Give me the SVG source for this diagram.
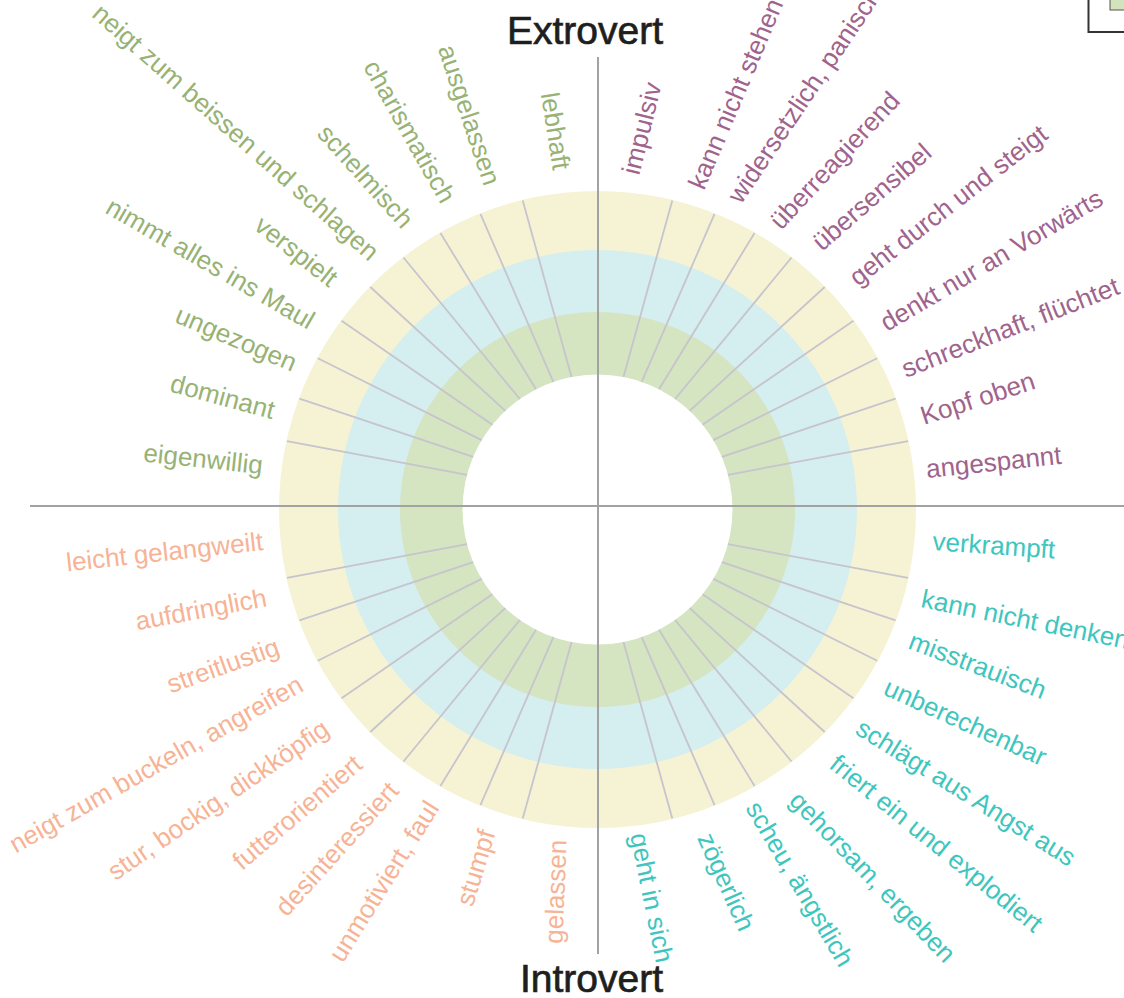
<svg xmlns="http://www.w3.org/2000/svg" xmlns:xlink="http://www.w3.org/1999/xlink" width="1124" height="998" viewBox="0 0 1124 998">
<style>
text{font-family:"Liberation Sans",Arial,sans-serif;font-size:26px}
.p{fill:#9f638c}
.g{fill:#97b274}
.t{fill:#3ec6be}
.o{fill:#f7b395}
.e{text-anchor:end}
.axis{stroke:#a2a2a2;stroke-width:2;fill:none}
.sp{stroke:#c6c4cc;stroke-width:1.8;fill:none}
.title{font-size:39px;fill:#1e1e1e;stroke:#1e1e1e;stroke-width:0.7}
</style>
<rect width="1124" height="998" fill="#ffffff"/>
<g id="rings">
<circle cx="597.5" cy="509.5" r="318.5" fill="#f6f3d5"/>
<circle cx="597.5" cy="509.5" r="259.5" fill="#d5eeef"/>
<circle cx="597.5" cy="509.5" r="197.5" fill="#d5e4c1"/>
<circle cx="597.5" cy="509.5" r="135" fill="#ffffff"/>
</g>
<g id="connectors">
<g transform="translate(597.5 509.5)">
<g id="quad" class="sp">
<line x1="130.46" y1="34.71" x2="310.58" y2="68.29"/>
<line x1="124.36" y1="52.53" x2="298.06" y2="110.85"/>
<line x1="115.84" y1="69.33" x2="279.73" y2="151.25"/>
<line x1="105.08" y1="84.76" x2="255.96" y2="188.71"/>
<line x1="92.21" y1="98.60" x2="227.20" y2="222.49"/>
<line x1="77.63" y1="110.45" x2="194.03" y2="251.95"/>
<line x1="61.50" y1="120.18" x2="157.07" y2="276.50"/>
<line x1="44.17" y1="127.57" x2="117.06" y2="295.67"/>
<line x1="25.99" y1="132.47" x2="74.77" y2="309.08"/>
</g>
<use href="#quad" xlink:href="#quad" transform="scale(-1 1)"/>
<use href="#quad" xlink:href="#quad" transform="scale(1 -1)"/>
<use href="#quad" xlink:href="#quad" transform="scale(-1 -1)"/>
</g>
<line class="axis" x1="30" y1="506" x2="1124" y2="506"/>
<line class="axis" x1="598" y1="57" x2="598" y2="954"/>
</g>
<g id="titles">
<text class="title" x="585" y="44" text-anchor="middle">Extrovert</text>
<text class="title" x="591.5" y="992" text-anchor="middle">Introvert</text>
</g>
<g id="legend">
<rect x="1088.5" y="-10" width="60" height="42" fill="#ffffff" stroke="#333333" stroke-width="2"/>
<rect x="1110" y="-10" width="40" height="20" fill="#d3e3bb" stroke="#555555" stroke-width="1"/>
</g>
<g id="extro-labels">
<text class="p" transform="translate(639 176) rotate(-76)">impulsiv</text>
<text class="p" transform="translate(704 191) rotate(-67)">kann nicht stehen</text>
<text class="p" transform="translate(741 205) rotate(-56)">widersetzlich, panisch</text>
<text class="p" transform="translate(781 231) rotate(-47)">überreagierend</text>
<text class="p" transform="translate(822 252) rotate(-41)">übersensibel</text>
<text class="p" transform="translate(858 287) rotate(-38)">geht durch und steigt</text>
<text class="p" transform="translate(887 332) rotate(-30.5)">denkt nur an Vorwärts</text>
<text class="p" transform="translate(906 378) rotate(-21.5)">schreckhaft, flüchtet</text>
<text class="p" transform="translate(924 425) rotate(-18)">Kopf oben</text>
<text class="p" transform="translate(927 478) rotate(-6)">angespannt</text>
</g>
<g id="green-labels">
<text class="g e" transform="translate(553 171) rotate(81)">lebhaft</text>
<text class="g e" transform="translate(484 187) rotate(71.5)">ausgelassen</text>
<text class="g e" transform="translate(441 205) rotate(60.5)">charismatisch</text>
<text class="g e" transform="translate(402 230) rotate(48)">schelmisch</text>
<text class="g e" transform="translate(369 262) rotate(41.5)">neigt zum beissen und schlagen</text>
<text class="g e" transform="translate(329 288) rotate(38)">verspielt</text>
<text class="g e" transform="translate(308 330) rotate(30)">nimmt alles ins Maul</text>
<text class="g e" transform="translate(292 372) rotate(23)">ungezogen</text>
<text class="g e" transform="translate(272 419) rotate(15)">dominant</text>
<text class="g e" transform="translate(262 474) rotate(6)">eigenwillig</text>
</g>
<g id="orange-labels">
<text class="o e" transform="translate(264 550) rotate(-6.2)">leicht gelangweilt</text>
<text class="o e" transform="translate(268 606) rotate(-10.5)">aufdringlich</text>
<text class="o e" transform="translate(281 654) rotate(-19.7)">streitlustig</text>
<text class="o e" transform="translate(305 690) rotate(-29.5)">neigt zum buckeln, angreifen</text>
<text class="o e" transform="translate(331 733) rotate(-34.5)">stur, bockig, dickköpfig</text>
<text class="o e" transform="translate(364 767) rotate(-40.5)">futterorientiert</text>
<text class="o e" transform="translate(400 792) rotate(-48)">desinteressiert</text>
<text class="o e" transform="translate(440 808) rotate(-58)">unmotiviert, faul</text>
<text class="o e" transform="translate(495.6 833) rotate(-73)">stumpf</text>
<text class="o e" transform="translate(566.5 840) rotate(-87.8)">gelassen</text>
</g>
<g id="teal-labels">
<text class="t" transform="translate(932 550) rotate(4)">verkrampft</text>
<text class="t" transform="translate(920 607) rotate(11.5)">kann nicht denken</text>
<text class="t" transform="translate(907 648) rotate(20.8)">misstrauisch</text>
<text class="t" transform="translate(882 694) rotate(24.4)">unberechenbar</text>
<text class="t" transform="translate(854 733) rotate(32)">schlägt aus Angst aus</text>
<text class="t" transform="translate(828 767) rotate(39)">friert ein und explodiert</text>
<text class="t" transform="translate(788 802) rotate(46)">gehorsam, ergeben</text>
<text class="t" transform="translate(745 808) rotate(59.5)">scheu, ängstlich</text>
<text class="t" transform="translate(697 838) rotate(66)">zögerlich</text>
<text class="t" transform="translate(630 835) rotate(78.5)">geht in sich</text>
</g>
</svg>
